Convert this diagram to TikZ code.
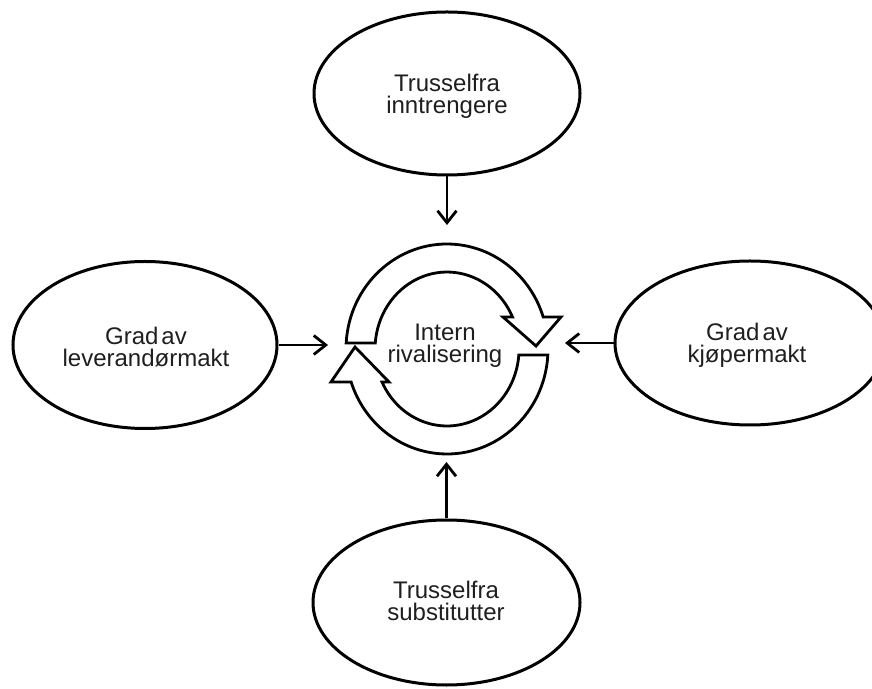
\documentclass[tikz,border=0pt]{standalone}
\usepackage{fontspec}
\setmainfont{Liberation Sans}
\usetikzlibrary{shapes.geometric,arrows.meta}
\begin{document}
\begin{tikzpicture}[x=1pt,y=1pt,
  oval/.style={ellipse,draw,line width=3pt,inner sep=0pt},
  lbl/.style={align=center,inner sep=0pt,font=\fontsize{24}{22}\selectfont,text=black!88},
  arr/.style={line width=2.8pt,-{Straight Barb[length=12pt,width=19pt,line width=2.8pt]}},
  ring/.style={draw,line width=2.8pt,line join=miter,fill=white}]
\useasboundingbox (0,0) rectangle (872,688);
\fill[white] (0,0) rectangle (872,688);
% ellipses
\node[oval,minimum width=266pt,minimum height=163pt] (top) at (447,594.5) {};
\node[oval,minimum width=264pt,minimum height=167pt] (left) at (145,343) {};
\node[oval,minimum width=270pt,minimum height=164pt] (right) at (750,345) {};
\node[oval,minimum width=267pt,minimum height=165pt] (bottom) at (446.5,85.5) {};
% texts
\node[lbl] (ttop) at (447,591.5) {Trusselfra\\inntrengere};
\node[lbl] (tleft) at (146,341.3) {Grad\hspace{3pt}av\\leverandørmakt};
\node[lbl] (tright) at (747,343) {Grad\hspace{3pt}av\\kjøpermakt};
\node[lbl] (tbottom) at (446,87) {Trusselfra\\substitutter};
\node[lbl] (tcenter) at (445,342.5) {Intern\\rivalisering};
% arrow end points
\coordinate (ct) at (447,463);
\coordinate (cl) at (328,343);
\coordinate (cr) at (565,345);
\coordinate (cb) at (446.5,226);
\draw[arr] (top.south) -- (ct);
\draw[arr] (left.east) -- (cl);
\draw[arr] (right.west) -- (cr);
\draw[arr] (bottom.north) -- (cb);
% circular arrows
\begin{scope}[shift={(447,339)}]
\path[ring] (176.7:101 and 105) arc[start angle=176.7,end angle=17.7,x radius=101,y radius=105]
  -- (114,32) -- (89,3) -- (56,32) -- (65.5,32)
  arc[start angle=24.6,end angle=175.5,x radius=72,y radius=77] -- cycle;
\path[ring] (-3.3:101 and 105) arc[start angle=-3.3,end angle=-161.7,x radius=101,y radius=105]
  -- (-116,-33) -- (-92,2) -- (-58,-33) -- (-65,-33)
  arc[start angle=-154.6,end angle=-4.5,x radius=72,y radius=77] -- cycle;
\end{scope}
\end{tikzpicture}
\end{document}
